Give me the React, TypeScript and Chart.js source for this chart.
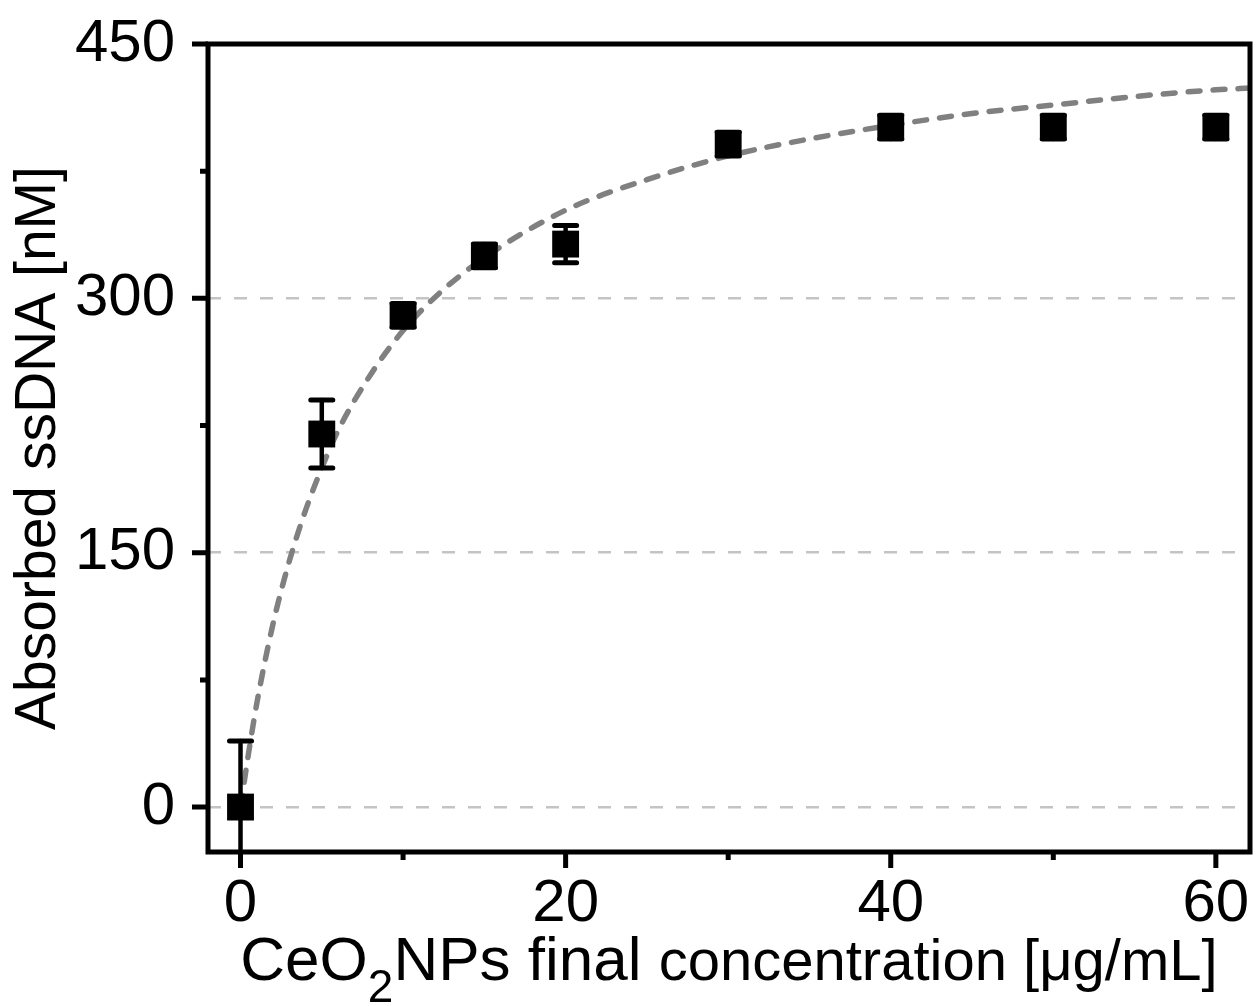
import React, { useEffect, useRef } from "react";
import { Chart, registerables } from "chart.js";

Chart.register(...registerables);

const concentrations = [0, 5, 10, 15, 20, 30, 40, 50, 60];
const absorbed = [0, 220, 290, 325, 332, 391, 401, 401, 401];
const absorbedError = [39, 20, 7, 7, 11, 7, 7, 7, 7];

// Fitted curve (dashed grey)
const fitConcentrations = [0, 0.5, 1, 2, 3, 4, 5, 6, 8, 10, 12, 15, 20, 25, 30, 35, 40, 45, 50, 55, 60, 62.1];
const fitAbsorbed = [0, 32, 61, 108, 145, 175, 200, 222, 255, 281, 301, 324, 352, 370, 384, 394, 402, 409, 414, 419, 423, 424];

// Axis ticks
const xMajorTicks = [0, 20, 40, 60];
const xMinorTicks = [10, 30, 50];
const yMajorTicks = [0, 150, 300, 450];
const yMinorTicks = [75, 225, 375];

const FONT = "'Liberation Sans', Arial, Helvetica, sans-serif";

const overlayPlugin = {
  id: "overlay",
  afterDatasetsDraw(chart: any) {
    const { ctx, chartArea: a, scales } = chart;
    const xs = scales.x;
    const ys = scales.y;
    // error bars
    ctx.save();
    ctx.beginPath();
    ctx.rect(a.left, a.top, a.right - a.left, a.bottom - a.top);
    ctx.clip();
    ctx.strokeStyle = "#000";
    ctx.lineCap = "round";
    concentrations.forEach((c, i) => {
      const x = xs.getPixelForValue(c);
      const yTop = ys.getPixelForValue(absorbed[i] + absorbedError[i]);
      const yBot = ys.getPixelForValue(absorbed[i] - absorbedError[i]);
      ctx.lineWidth = 4.5;
      ctx.beginPath();
      ctx.moveTo(x, yTop);
      ctx.lineTo(x, yBot);
      ctx.stroke();
      ctx.lineWidth = 5;
      ctx.beginPath();
      ctx.moveTo(x - 11, yTop);
      ctx.lineTo(x + 11, yTop);
      ctx.moveTo(x - 11, yBot);
      ctx.lineTo(x + 11, yBot);
      ctx.stroke();
    });
    ctx.restore();

    // frame and ticks
    ctx.save();
    ctx.strokeStyle = "#000";
    ctx.lineWidth = 5;
    ctx.lineCap = "butt";
    ctx.strokeRect(a.left, a.top, a.right - a.left, a.bottom - a.top);
    ctx.beginPath();
    xMajorTicks.forEach((v) => {
      const x = xs.getPixelForValue(v);
      ctx.moveTo(x, a.bottom);
      ctx.lineTo(x, a.bottom + 16);
    });
    xMinorTicks.forEach((v) => {
      const x = xs.getPixelForValue(v);
      ctx.moveTo(x, a.bottom);
      ctx.lineTo(x, a.bottom + 8);
    });
    yMajorTicks.forEach((v) => {
      const y = ys.getPixelForValue(v);
      ctx.moveTo(a.left, y);
      ctx.lineTo(a.left - 16, y);
    });
    yMinorTicks.forEach((v) => {
      const y = ys.getPixelForValue(v);
      ctx.moveTo(a.left, y);
      ctx.lineTo(a.left - 8, y);
    });
    ctx.stroke();
    ctx.restore();
  },
  afterDraw(chart: any) {
    const { ctx, chartArea: a } = chart;
    ctx.save();
    ctx.fillStyle = "#000";
    ctx.textBaseline = "alphabetic";
    ctx.textAlign = "left";
    const big = `62px ${FONT}`;
    const sub = `46px ${FONT}`;
    const small = `58px ${FONT}`;
    const parts = [
      { t: "CeO", f: big, dy: 0 },
      { t: "2", f: sub, dy: 22 },
      { t: "NPs final ", f: big, dy: 0 },
      { t: "concentration [μg/mL]", f: small, dy: 0 },
    ];
    let total = 0;
    const widths = parts.map((p) => {
      ctx.font = p.f;
      const w = ctx.measureText(p.t).width;
      total += w;
      return w;
    });
    let x = (a.left + a.right) / 2 - total / 2;
    const baseY = 980;
    parts.forEach((p, i) => {
      ctx.font = p.f;
      ctx.fillText(p.t, x, baseY + p.dy);
      x += widths[i];
    });
    ctx.restore();
  },
};

export default function App() {
  const canvasRef = useRef<HTMLCanvasElement | null>(null);

  useEffect(() => {
    if (!canvasRef.current) return;
    const chart = new Chart(canvasRef.current, {
      type: "scatter",
      data: {
        datasets: [
          {
            type: "scatter",
            label: "Absorbed ssDNA",
            data: concentrations.map((c, i) => ({ x: c, y: absorbed[i] })),
            pointStyle: "rect",
            pointRadius: 19,
            pointHoverRadius: 19,
            backgroundColor: "#000",
            borderColor: "#000",
            borderWidth: 0,
            order: 0,
          } as any,
          {
            type: "line",
            label: "Fit",
            data: fitConcentrations.map((c, i) => ({ x: c, y: fitAbsorbed[i] })),
            borderColor: "#808080",
            borderWidth: 5.5,
            borderDash: [12, 13],
            borderCapStyle: "round",
            pointRadius: 0,
            fill: false,
            cubicInterpolationMode: "monotone",
            order: 1,
          } as any,
        ],
      },
      options: {
        animation: false,
        responsive: true,
        maintainAspectRatio: false,
        layout: { autoPadding: false, padding: { top: 44, right: 6, left: 0, bottom: 0 } },
        plugins: {
          legend: { display: false },
          tooltip: { enabled: false },
        },
        scales: {
          x: {
            type: "linear",
            min: -2,
            max: 62.1,
            afterBuildTicks: (s: any) => {
              s.ticks = xMajorTicks.map((v) => ({ value: v }));
            },
            afterFit: (s: any) => {
              s.height = 154;
              s.paddingLeft = 0;
              s.paddingRight = 0;
            },
            grid: { display: false, drawTicks: false },
            border: { display: false },
            ticks: {
              color: "#000",
              font: { family: FONT, size: 60 },
              padding: 16,
              maxRotation: 0,
              autoSkip: false,
            },
          },
          y: {
            type: "linear",
            min: -26.5,
            max: 450,
            afterBuildTicks: (s: any) => {
              s.ticks = yMajorTicks.map((v) => ({ value: v }));
            },
            afterFit: (s: any) => {
              s.width = 208;
              s.paddingTop = 0;
              s.paddingBottom = 0;
            },
            grid: {
              drawTicks: false,
              color: (c: any) => (c.tick && c.tick.value === 450 ? "rgba(0,0,0,0)" : "#c4c4c4"),
              lineWidth: 2.5,
            } as any,
            border: { display: false, dash: [13, 13] } as any,
            ticks: {
              color: "#000",
              font: { family: FONT, size: 60 },
              padding: 33,
              autoSkip: false,
            },
            title: {
              display: true,
              text: "Absorbed ssDNA [nM]",
              color: "#000",
              font: { family: FONT, size: 57 },
              padding: { top: 5, bottom: 0 },
            },
          },
        },
      },
      plugins: [overlayPlugin],
    });
    return () => chart.destroy();
  }, []);

  return (
    <div style={{ position: "absolute", left: 0, top: 0, width: 1256, height: 1006, background: "#fff" }}>
      <canvas ref={canvasRef} />
    </div>
  );
}
